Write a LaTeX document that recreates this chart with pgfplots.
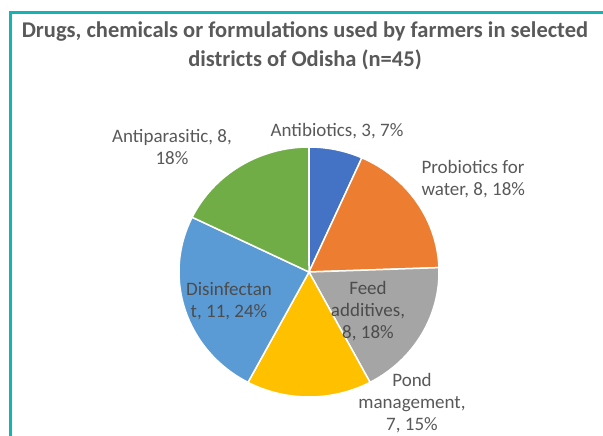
\documentclass[border=0pt]{standalone}
\usepackage{pgfplots}
\usepackage{pgfplotstable}
\pgfplotsset{compat=1.18}
\usepackage{fontspec}
\setmainfont{Carlito}
\definecolor{pieblue}{HTML}{4472C4}
\definecolor{pieorange}{HTML}{ED7D31}
\definecolor{piegray}{HTML}{A5A5A5}
\definecolor{pieyellow}{HTML}{FFC000}
\definecolor{pielightblue}{HTML}{5B9BD5}
\definecolor{piegreen}{HTML}{70AD47}
\definecolor{txtgray}{HTML}{595959}
\definecolor{frameteal}{RGB}{20,180,180}

\pgfplotstableread{
value color
3 pieblue
8 pieorange
8 piegray
7 pieyellow
11 pielightblue
8 piegreen
}\piedata

\begin{document}
\begin{tikzpicture}
\begin{axis}[hide axis, scale only axis, x=1pt, y=1pt,
  xmin=0, xmax=603, ymin=0, ymax=436, clip=false]
\coordinate (bl) at (axis cs:0,0);
\coordinate (tr) at (axis cs:603,436);
% frame
\draw[frameteal, line width=3pt] (axis cs:10.5,-10) -- (axis cs:10.5,423) -- (axis cs:620,423);
% total
\def\total{0}
\pgfplotsforeachungrouped \i in {0,...,5}{%
  \pgfplotstablegetelem{\i}{value}\of\piedata
  \pgfmathsetmacro\total{\total+\pgfplotsretval}%
}
\def\cumangle{90}
\pgfplotsforeachungrouped \i in {0,...,5}{%
  \pgfplotstablegetelem{\i}{value}\of\piedata \let\val\pgfplotsretval
  \pgfplotstablegetelem{\i}{color}\of\piedata \let\col\pgfplotsretval
  \pgfmathsetmacro\endangle{\cumangle - \val/\total*360}%
  \edef\temp{\noexpand\fill[fill=\col, draw=white, line width=1.5pt, line join=round] (axis cs:309,164) -- ++(\cumangle:130pt and 125pt) arc[start angle=\cumangle, end angle=\endangle, x radius=130pt, y radius=125pt] -- cycle;}%
  \temp
  \global\let\cumangle\endangle
}
% title
\node[align=center, text=txtgray, font=\fontsize{22.5}{29}\selectfont\bfseries] at (axis cs:305,390.5)
  {Drugs, chemicals or formulations used by farmers in selected\\districts of Odisha (n=45)};
% labels
\tikzset{lbl/.style={align=center, text=txtgray, font=\fontsize{19}{22}\selectfont}}
\node[lbl] at (axis cs:172,289) {Antiparasitic, 8,\\18\%};
\node[lbl] at (axis cs:337,305) {Antibiotics, 3, 7\%};
\node[lbl, align=left, anchor=west] at (axis cs:418,256.5) {Probiotics for\\water, 8, 18\%};
\node[lbl, text=black!70] at (axis cs:229,135) {Disinfectan\\t, 11, 24\%};
\node[lbl, text=black!70] at (axis cs:368,125) {Feed\\additives,\\8, 18\%};
\node[lbl] at (axis cs:412,33) {Pond\\management,\\7, 15\%};
\end{axis}
\pgfresetboundingbox
\path[use as bounding box] (bl) rectangle (tr);
\end{tikzpicture}
\end{document}
